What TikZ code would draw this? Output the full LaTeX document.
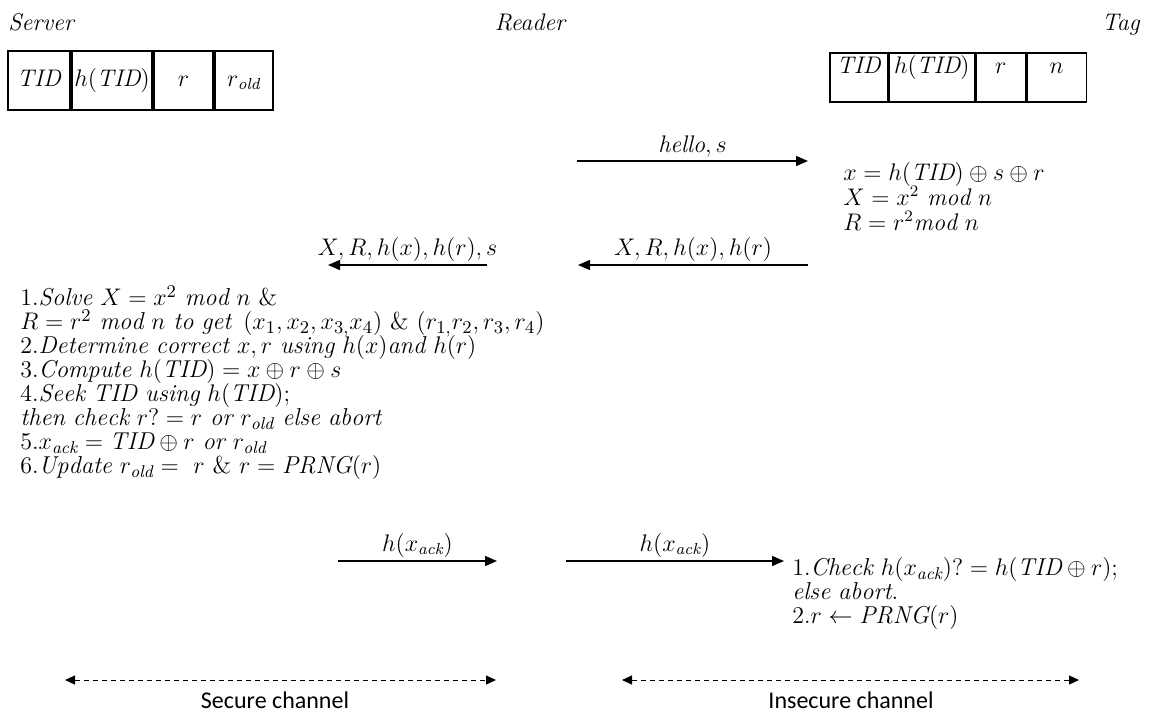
\documentclass[tikz,border=0pt]{standalone}
\usepackage{amsmath,amssymb}
\usepackage{fontspec}
\newfontfamily\chanfont{Carlito}
\usetikzlibrary{arrows.meta,positioning}
\newcommand{\vw}[1]{\mathit{#1}}
\newcommand{\tightlines}{\lineskiplimit=-6pt\relax}
\tikzset{cellS/.style={draw,line width=1pt,inner sep=0pt,text height=17.5pt,text depth=12pt},
 cellT/.style={draw,line width=.75pt,inner sep=0pt,text height=10.5pt,text depth=14pt},
 role/.style={font=\fontsize{12}{14}\selectfont\itshape,inner sep=0pt},
 steps/.style={align=left,anchor=north west,inner sep=0pt,font=\fontsize{12.2}{12}\selectfont\tightlines},
 msg/.style={-{Triangle[length=6pt,width=5pt]},line width=.65pt},
 lbl/.style={above=1.5pt,inner sep=0pt},
 chan/.style={{Triangle[length=5pt,width=4.5pt]}-{Triangle[length=5pt,width=4.5pt]},dash pattern=on 2.5pt off 2pt,line width=.5pt},
 every node/.style={font=\fontsize{12}{14}\selectfont}}
\begin{document}
\begin{tikzpicture}[x=.5pt,y=-.5pt]
\useasboundingbox (0,0) rectangle (1151,713);
% parties
\node[role,anchor=base west] (srv) at (8,30) {Server};
\node[role,anchor=base] (rdr) at (530,30) {Reader};
\node[role,anchor=base east] (tag) at (1140,30) {Tag};
% stored values
\node[cellS,minimum width=31pt,anchor=north west] (s1) at (7,50) {$\vw{TID}$};
\node[cellS,minimum width=40pt,right=0pt of s1] (s2) {$h(\vw{TID})$};
\node[cellS,minimum width=29.5pt,right=0pt of s2] (s3) {$r$};
\node[cellS,minimum width=29pt,right=0pt of s3] (s4) {$r_{\vw{old}}$};
\node[cellT,minimum width=29pt,anchor=north west] (t1) at (829,52) {$\vw{TID}$};
\node[cellT,minimum width=42.5pt,right=0pt of t1] (t2) {$h(\vw{TID})$};
\node[cellT,minimum width=25pt,right=0pt of t2] (t3) {$r$};
\node[cellT,minimum width=29.5pt,right=0pt of t3] (t4) {$n$};
% messages
\coordinate (a1) at (577,161);\coordinate (a2) at (808,161);
\coordinate (b1) at (808,265);\coordinate (b2) at (578,265);
\coordinate (c1) at (487,265);\coordinate (c2) at (328,265);
\coordinate (d1) at (338,561);\coordinate (d2) at (497,561);
\coordinate (e1) at (566,561);\coordinate (e2) at (784,561);
\draw[msg] (a1) -- node[lbl] (ma) {$\vw{hello},s$} (a2);
\draw[msg] (b1) -- node[lbl] (mb) {$X,R,h(x),h(r)$} (b2);
\draw[msg] (c1) -- node[lbl] (mc) {$X,R,h(x),h(r),s$} (c2);
\draw[msg] (d1) -- node[lbl] (md) {$h(x_{\vw{ack}})$} (d2);
\draw[msg] (e1) -- node[lbl] (me) {$h(x_{\vw{ack}})$} (e2);
% computations
\node[steps,font=\fontsize{12}{12.5}\selectfont\tightlines] (tc) at (843,162) {$x=h(\vw{TID})\oplus s\oplus r$\\
 $X=x^2\ \vw{mod}\ n$\\ $R=r^2\vw{mod}\ n$};
\node[steps] (sc) at (20,285) {$1.\vw{Solve}\ X=x^2\ \vw{mod}\ n$ \&\\
 $R=r^2\ \vw{mod}\ n\ \vw{to}\ \vw{get}\ \left(x_1,x_2,x_{3,}x_4\right)$ \& $(r_{1,}r_2,r_3,r_4)$\\
 $2.\vw{Determine}\ \vw{correct}\ x,r\ \vw{using}\ h(x)\vw{and}\ h(r)$\\
 $3.\vw{Compute}\ h(\vw{TID})=x\oplus r\oplus s$\\
 $4.\vw{Seek}\ \vw{TID}\ \vw{using}\ h(\vw{TID});$\\
 $\vw{then}\ \vw{check}\ r?=r\ \vw{or}\ r_{\vw{old}}\ \vw{else}\ \vw{abort}$\\
 $5.x_{\vw{ack}}=\vw{TID}\oplus r\ \vw{or}\ r_{\vw{old}}$\\
 $6.\vw{Update}\ r_{\vw{old}}=\ r\ \&\ r=\vw{PRNG}(r)$};
\node[steps] (tv) at (792,557) {$1.\vw{Check}\ h(x_{\vw{ack}})?=h(\vw{TID}\oplus r);$\\
 $\vw{else}\ \vw{abort}$.\\ $2.r\leftarrow\vw{PRNG}(r)$};
% channels
\coordinate (f1) at (65,680);\coordinate (f2) at (496,680);
\coordinate (g1) at (622,680);\coordinate (g2) at (1079,680);
\draw[chan] (f1) -- (f2);\draw[chan] (g1) -- (g2);
\node[font=\chanfont\fontsize{12}{14}\selectfont,anchor=base] (sec) at (275,708) {Secure channel};
\node[font=\chanfont\fontsize{12}{14}\selectfont,anchor=base] (ins) at (851,708) {Insecure channel};
\end{tikzpicture}
\end{document}
